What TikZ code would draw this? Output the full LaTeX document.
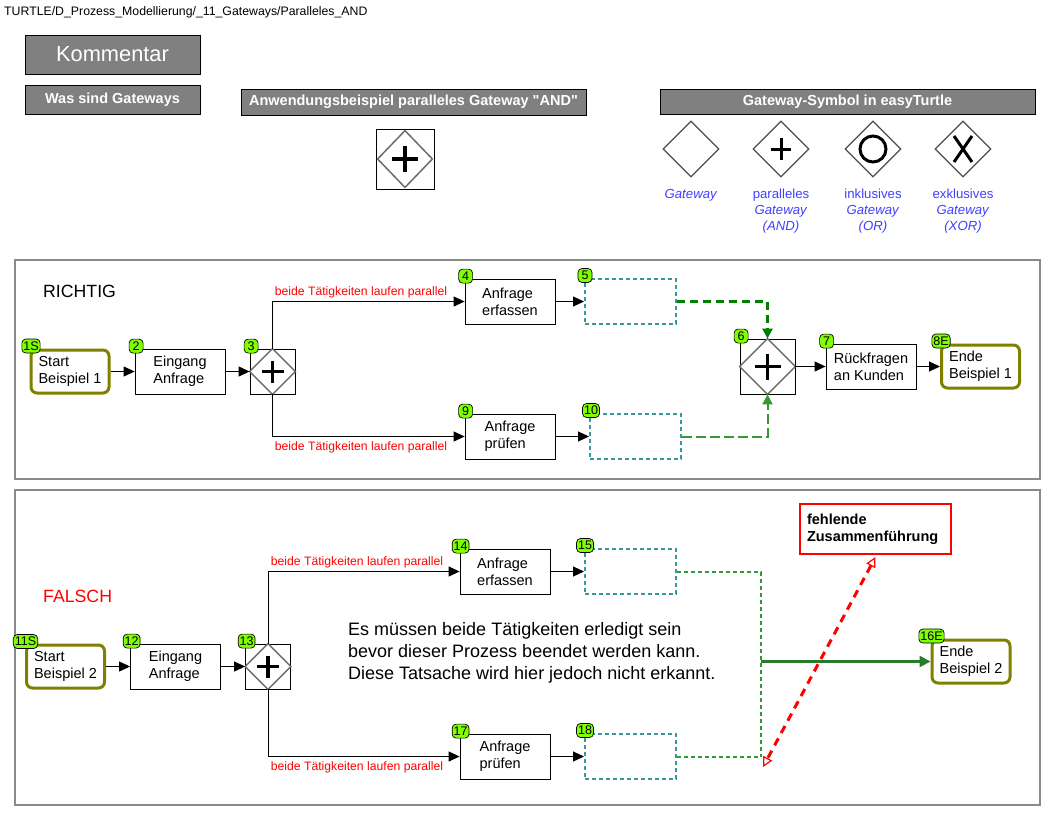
\documentclass[tikz,border=0pt]{standalone}
\usepackage{fontspec}
\setmainfont{Liberation Sans}
\newfontfamily\qfont{Liberation Sans}
\usetikzlibrary{arrows.meta,shapes.geometric}
\definecolor{boxgray}{HTML}{808080}
\definecolor{framegray}{HTML}{8A8A8A}
\definecolor{badgegreen}{RGB}{128,255,0}
\definecolor{tealdot}{RGB}{51,153,153}
\definecolor{dkgreen}{HTML}{008000}
\definecolor{ltgreen}{HTML}{339933}
\definecolor{olivec}{HTML}{808000}
\definecolor{labelblue}{RGB}{64,64,255}
\definecolor{redc}{HTML}{FF0000}
\newcommand\andgw[2]{%
  \draw[gwdia] (#1.north) -- (#1.east) -- (#1.south) -- (#1.west) -- cycle;
  \draw[gwplus] ([yshift=#2]#1.center) -- ([yshift=-#2]#1.center)
                ([xshift=-#2]#1.center) -- ([xshift=#2]#1.center);}
\begin{document}
\begin{tikzpicture}[x=1pt,y=-1pt,
  hbox/.style={draw=black, fill=boxgray, text=white, line width=1, inner sep=0},
  task/.style={draw=black, line width=0.8, fill=white, minimum width=90pt, minimum height=45pt, align=left, inner sep=0, font=\fontsize{14.5}{17}\selectfont},
  evt/.style={task, draw=olivec, line width=3, rounded corners=6pt, minimum width=78pt, minimum height=43pt},
  dbox/.style={draw=tealdot, line width=2, dash pattern=on 4pt off 3pt, minimum width=91pt, minimum height=45pt, inner sep=0},
  gwbox/.style={draw=black, line width=0.8, fill=white, minimum size=45pt, inner sep=0},
  gwdia/.style={draw=gray!85!black, line width=1.5},
  gwplus/.style={draw=black, line width=3.3},
  badge/.style={draw=black, line width=0.7, fill=badgegreen, rounded corners=4pt, inner xsep=1.5pt, inner ysep=0pt, minimum height=14pt, minimum width=14pt, font=\fontsize{12.5}{12.5}\selectfont},
  arr/.style={draw=black, line width=1, -{Triangle[length=11pt,width=10pt]}},
  plab/.style={text=redc, font=\fontsize{12.2}{14}\selectfont, inner sep=0},
  sym/.style={diamond, draw=gray!60!black, line width=1.2, minimum width=56pt, minimum height=56pt, inner sep=0},
  slab/.style={text=labelblue, align=center, font=\fontsize{13.2}{16}\selectfont, inner sep=0},
  frame/.style={draw=framegray, line width=2.5}
]
\useasboundingbox (0,0) rectangle (1048,812);

% header
\node[anchor=west, inner sep=0, font=\fontsize{12.3}{14}\selectfont] (path) at (4,12) {TURTLE/D\_Prozess\_Modellierung/\_11\_Gateways/Paralleles\_AND};
\node[hbox, minimum width=175pt, minimum height=39pt, font=\fontsize{21.8}{24}\selectfont] (kom) at (112.5,54.5) {Kommentar};
\node[hbox, minimum width=175pt, minimum height=29pt, font=\bfseries\fontsize{14.5}{16}\selectfont] (was) at (112.5,99.5) {Was sind Gateways};
\node[hbox, minimum width=345pt, minimum height=26pt, font=\qfont\bfseries\fontsize{14.5}{16}\selectfont] (anw) at (413.5,102) {Anwendungsbeispiel paralleles Gateway "AND"};
\node[hbox, minimum width=375pt, minimum height=25pt, font=\bfseries\fontsize{14.5}{16}\selectfont] (sym) at (847.5,101.5) {Gateway-Symbol in easyTurtle};

% AND icon
\node[draw=black, line width=0.8, minimum width=58pt, minimum height=60pt, inner sep=0] (icon) at (405,159) {};
\draw[gwdia] ([yshift=-2pt]icon.north) -- ([xshift=-2pt]icon.east) -- ([yshift=2pt]icon.south) -- ([xshift=2pt]icon.west) -- cycle;
\draw[gwplus] ([yshift=13pt]icon.center) -- ([yshift=-13pt]icon.center) ([xshift=-13pt]icon.center) -- ([xshift=13pt]icon.center);

% symbol row
\node[sym] (s1) at (691,149) {};
\node[sym] (s2) at (781,149) {};
\node[sym] (s3) at (873,149) {};
\node[sym] (s4) at (963,149) {};
\draw[gwplus, line width=3] ([yshift=11pt]s2.center) -- ([yshift=-11pt]s2.center) ([xshift=-10pt]s2.center) -- ([xshift=10pt]s2.center);
\draw[black, line width=3] (s3.center) circle (13pt);
\draw[black, line width=3] ([shift={(-9pt,13pt)}]s4.center) -- ([shift={(9pt,-13pt)}]s4.center)
  ([shift={(9pt,13pt)}]s4.center) -- ([shift={(-9pt,-13pt)}]s4.center);
\node[slab] (l1) at (691,195) {\textit{Gateway}};
\node[slab] (l2) at (781,211) {paralleles\\\textit{Gateway}\\\textit{(AND)}};
\node[slab] (l3) at (873,211) {inklusives\\\textit{Gateway}\\\textit{(OR)}};
\node[slab] (l4) at (963,211) {exklusives\\\textit{Gateway}\\\textit{(XOR)}};

% ===== section 1 =====
\draw[frame] (15,260) rectangle (1040,479);
\node[anchor=west, inner sep=0, font=\fontsize{17.7}{20}\selectfont] (richtig) at (43,291) {RICHTIG};

\node[evt] (s1s) at (70,371.5) {Start\\Beispiel 1};
\node[task] (t2) at (180,371.5) {Eingang\\Anfrage};
\node[gwbox] (g3) at (272.5,371.5) {};
\andgw{g3}{11pt}
\node[task] (t4) at (510,301.5) {Anfrage\\erfassen};
\node[task] (t9) at (510,436.5) {Anfrage\\prüfen};
\node[dbox] (b5) at (630.5,301.5) {};
\node[dbox] (b10) at (635.5,436.5) {};
\node[gwbox, minimum size=55pt] (g6) at (767.5,366.5) {};
\andgw{g6}{13pt}
\node[task] (t7) at (871,366.5) {Rückfragen\\an Kunden};
\node[evt] (e8) at (980.5,366.5) {Ende\\Beispiel 1};

\node[badge] at ([shift={(1.5pt,2.5pt)}]s1s.north west) {1S};
\node[badge] at ([shift={(1.5pt,2.5pt)}]t2.north west) {2};
\node[badge] at ([shift={(1.5pt,2.5pt)}]g3.north west) {3};
\node[badge] at ([shift={(1pt,2.5pt)}]t4.north west) {4};
\node[badge] at ([shift={(1pt,2.5pt)}]b5.north west) {5};
\node[badge] at ([shift={(1.5pt,2.5pt)}]g6.north west) {6};
\node[badge] at ([shift={(1pt,2.5pt)}]t7.north west) {7};
\node[badge] at ([shift={(1pt,2.5pt)}]e8.north west) {8E};
\node[badge] at ([shift={(1pt,2.5pt)}]t9.north west) {9};
\node[badge] at ([shift={(2pt,2.5pt)}]b10.north west) {10};

\draw[arr] (s1s.east) -- (t2.west);
\draw[arr] (t2.east) -- (g3.west);
\draw[arr] (g3.north) |- (t4.west);
\draw[arr] (g3.south) |- (t9.west);
\node[plab] (lab1) at (361,292) {beide Tätigkeiten laufen parallel};
\node[plab] (lab2) at (361,447) {beide Tätigkeiten laufen parallel};
\draw[arr] (t4.east) -- (b5.west);
\draw[arr] (t9.east) -- (b10.west);
\draw[dkgreen, line width=2.8, dash pattern=on 8pt off 5pt, -{Triangle[length=10pt,width=10pt]}] (b5.east) -| (g6.north);
\draw[ltgreen, line width=2, dash pattern=on 10pt off 4pt, -{Triangle[length=10pt,width=10pt]}] (b10.east) -| (g6.south);
\draw[arr] (g6.east) -- (t7.west);
\draw[arr] (t7.east) -- (e8.west);

% ===== section 2 =====
\draw[frame] (15,490) rectangle (1040,805);
\node[anchor=west, inner sep=0, text=redc, font=\fontsize{17.7}{20}\selectfont] (falsch) at (43,596) {FALSCH};

\node[evt] (s11) at (65.5,666.5) {Start\\Beispiel 2};
\node[task] (t12) at (175.5,666.5) {Eingang\\Anfrage};
\node[gwbox] (g13) at (268,666.5) {};
\andgw{g13}{11pt}
\node[task] (t14) at (505,571.5) {Anfrage\\erfassen};
\node[task] (t17) at (505,756.5) {Anfrage\\prüfen};
\node[dbox] (b15) at (630.5,571.5) {};
\node[dbox] (b18) at (630.5,756.5) {};
\node[evt] (e16) at (971,661.5) {Ende\\Beispiel 2};
\coordinate (jb) at (761,756.5);
\coordinate (jm) at (761,661.5);

\node[badge] at ([shift={(0.5pt,2pt)}]s11.north west) {11S};
\node[badge] at ([shift={(1.5pt,2.5pt)}]t12.north west) {12};
\node[badge] at ([shift={(1.5pt,2.5pt)}]g13.north west) {13};
\node[badge] at ([shift={(1pt,2.5pt)}]t14.north west) {14};
\node[badge] at ([shift={(1pt,2.5pt)}]b15.north west) {15};
\node[badge] at ([shift={(1pt,2.5pt)}]e16.north west) {16E};
\node[badge] at ([shift={(1pt,2.5pt)}]t17.north west) {17};
\node[badge] at ([shift={(1pt,2.5pt)}]b18.north west) {18};

\draw[arr] (s11.east) -- (t12.west);
\draw[arr] (t12.east) -- (g13.west);
\draw[arr] (g13.north) |- (t14.west);
\draw[arr] (g13.south) |- (t17.west);
\node[plab] (lab3) at (357,562) {beide Tätigkeiten laufen parallel};
\node[plab] (lab4) at (357,767) {beide Tätigkeiten laufen parallel};
\draw[arr] (t14.east) -- (b15.west);
\draw[arr] (t17.east) -- (b18.west);
\draw[ltgreen, line width=2, dash pattern=on 4pt off 3pt] (b15.east) -| (jb);
\draw[ltgreen, line width=2, dash pattern=on 4pt off 3pt] (b18.east) -- (jb);
\draw[ltgreen!80!black, line width=2.5, -{Triangle[length=11pt,width=11pt]}] (jm) -- (e16.west);

\node[anchor=west, inner sep=0, align=left, font=\fontsize{18}{22}\selectfont] (expl) at (348,653)
  {Es müssen beide Tätigkeiten erledigt sein\\bevor dieser Prozess beendet werden kann.\\Diese Tatsache wird hier jedoch nicht erkannt.};

\node[draw=redc, line width=2, fill=white, text width=137pt, minimum height=50pt, align=left, inner xsep=7pt, inner ysep=0pt, font=\bfseries\fontsize{14.5}{17}\selectfont] (note) at (875.5,529)
  {fehlende\\Zusammenführung};
\coordinate (rc) at (763,767);
\draw[redc, line width=3, dash pattern=on 8pt off 6pt, {Triangle[open,length=10pt,width=10pt,line width=1.2pt,fill=white]}-{Triangle[open,length=10pt,width=10pt,line width=1.2pt,fill=white]}] ([yshift=-2pt]note.south) -- (rc);
\end{tikzpicture}
\end{document}
